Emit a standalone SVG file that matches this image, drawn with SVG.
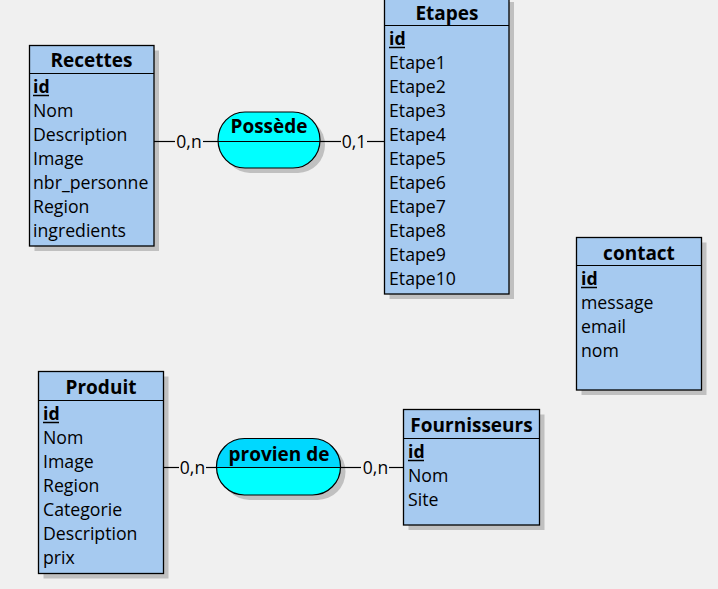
<svg xmlns="http://www.w3.org/2000/svg" width="718" height="589" viewBox="0 0 718 589">
<style>
.bg{fill:#f0f0f0}
.sh{fill:#c0c0c0}
.ent{fill:#a6caf0;stroke:#000;stroke-width:1.3}
.sep{stroke:#000;stroke-width:1.2}
.hd{font-family:"Open Sans","Liberation Sans",sans-serif;font-size:19px;font-weight:bold;fill:#000;text-anchor:middle}
.at{font-family:"Open Sans","Liberation Sans",sans-serif;font-size:17.7px;fill:#000}
.id{font-weight:bold}
.ul{stroke:#000;stroke-width:1.5}
.asc{fill:#00ffff;stroke:#000;stroke-width:1.2}
.lk{stroke:#000;stroke-width:1.2;fill:none}
.card{font-family:"Open Sans","Liberation Sans",sans-serif;font-size:17.5px;fill:#000;text-anchor:middle}
</style>
<rect class="bg" x="0" y="0" width="718" height="589"/>

<g id="Recettes">
  <rect class="sh" x="34.5" y="50.5" width="124.5" height="200.5"/>
  <rect class="ent" x="29.5" y="45.5" width="124.5" height="200.5"/>
  <line class="sep" x1="29.5" y1="73.5" x2="154" y2="73.5"/>
  <text class="hd" x="91.5" y="67">Recettes</text>
  <text class="at id" x="33" y="93">id</text>
  <line class="ul" x1="33" y1="95.5" x2="49" y2="95.5"/>
  <text class="at" x="33" y="117">Nom</text>
  <text class="at" x="33" y="141">Description</text>
  <text class="at" x="33" y="165">Image</text>
  <text class="at" x="33" y="189">nbr_personne</text>
  <text class="at" x="33" y="213">Region</text>
  <text class="at" x="33" y="237">ingredients</text>
</g>

<g id="Etapes">
  <rect class="sh" x="389.5" y="2" width="124.5" height="297"/>
  <rect class="ent" x="384.5" y="-3" width="124.5" height="297"/>
  <line class="sep" x1="384.5" y1="25.5" x2="509" y2="25.5"/>
  <text class="hd" x="447" y="20">Etapes</text>
  <text class="at id" x="389" y="45">id</text>
  <line class="ul" x1="389" y1="47.5" x2="405" y2="47.5"/>
  <text class="at" x="389" y="69">Etape1</text>
  <text class="at" x="389" y="93">Etape2</text>
  <text class="at" x="389" y="117">Etape3</text>
  <text class="at" x="389" y="141">Etape4</text>
  <text class="at" x="389" y="165">Etape5</text>
  <text class="at" x="389" y="189">Etape6</text>
  <text class="at" x="389" y="213">Etape7</text>
  <text class="at" x="389" y="237">Etape8</text>
  <text class="at" x="389" y="261">Etape9</text>
  <text class="at" x="389" y="285">Etape10</text>
</g>

<g id="contact">
  <rect class="sh" x="581.5" y="242.5" width="125" height="152.5"/>
  <rect class="ent" x="576.5" y="237.5" width="125" height="152.5"/>
  <line class="sep" x1="576.5" y1="265.5" x2="701.5" y2="265.5"/>
  <text class="hd" x="639" y="260">contact</text>
  <text class="at id" x="581" y="285">id</text>
  <line class="ul" x1="581" y1="287.5" x2="597" y2="287.5"/>
  <text class="at" x="581" y="309">message</text>
  <text class="at" x="581" y="333">email</text>
  <text class="at" x="581" y="357">nom</text>
</g>

<g id="Produit">
  <rect class="sh" x="43.5" y="376.5" width="125" height="202"/>
  <rect class="ent" x="38.5" y="371.5" width="125" height="202"/>
  <line class="sep" x1="38.5" y1="400.5" x2="163.5" y2="400.5"/>
  <text class="hd" x="101" y="394">Produit</text>
  <text class="at id" x="43" y="420">id</text>
  <line class="ul" x1="43" y1="422.5" x2="59" y2="422.5"/>
  <text class="at" x="43" y="444">Nom</text>
  <text class="at" x="43" y="468">Image</text>
  <text class="at" x="43" y="492">Region</text>
  <text class="at" x="43" y="516">Categorie</text>
  <text class="at" x="43" y="540">Description</text>
  <text class="at" x="43" y="564">prix</text>
</g>

<g id="Fournisseurs">
  <rect class="sh" x="408.5" y="414.5" width="136" height="115.5"/>
  <rect class="ent" x="403.5" y="409.5" width="136" height="115.5"/>
  <line class="sep" x1="403.5" y1="438.5" x2="539.5" y2="438.5"/>
  <text class="hd" x="471.5" y="432">Fournisseurs</text>
  <text class="at id" x="408" y="458">id</text>
  <line class="ul" x1="408" y1="460.5" x2="424" y2="460.5"/>
  <text class="at" x="408" y="482">Nom</text>
  <text class="at" x="408" y="506">Site</text>
</g>

<g id="Possede">
  <rect class="sh" x="223" y="117" width="102" height="56" rx="27" ry="28"/>
  <rect class="asc" x="218" y="112" width="102" height="56" rx="27" ry="28"/>
  <line class="sep" x1="218" y1="141.5" x2="320" y2="141.5"/>
  <text class="hd" x="269" y="133">Possède</text>
</g>

<g id="provien_de">
  <rect class="sh" x="221.5" y="443.5" width="124" height="56.5" rx="28" ry="28"/>
  <rect x="216.5" y="438.5" width="124" height="56.5" rx="28" ry="28" fill="#00ffff"/>
  <path d="M216.5,467.5 L216.5,466.5 A28,28 0 0 1 244.5,438.5 L312.5,438.5 A28,28 0 0 1 340.5,466.5 L340.5,467.5 Z" fill="#00d8ff"/>
  <rect x="216.5" y="438.5" width="124" height="56.5" rx="28" ry="28" fill="none" stroke="#000" stroke-width="1.2"/>
  <line class="sep" x1="216.5" y1="467.5" x2="340.5" y2="467.5"/>
  <text class="hd" x="279" y="461">provien de</text>
</g>

<g id="connectors">
  <line class="lk" x1="154" y1="141.5" x2="175" y2="141.5"/>
  <line class="lk" x1="203" y1="141.5" x2="218" y2="141.5"/>
  <text class="card" x="189" y="148">0,n</text>
  <line class="lk" x1="320" y1="141.5" x2="341" y2="141.5"/>
  <line class="lk" x1="367" y1="141.5" x2="385" y2="141.5"/>
  <text class="card" x="354" y="148">0,1</text>
  <line class="lk" x1="164" y1="467.5" x2="179" y2="467.5"/>
  <line class="lk" x1="206" y1="467.5" x2="217" y2="467.5"/>
  <text class="card" x="192.5" y="474">0,n</text>
  <line class="lk" x1="340.5" y1="467.5" x2="361" y2="467.5"/>
  <line class="lk" x1="389" y1="467.5" x2="404" y2="467.5"/>
  <text class="card" x="375.5" y="474">0,n</text>
</g>
</svg>
